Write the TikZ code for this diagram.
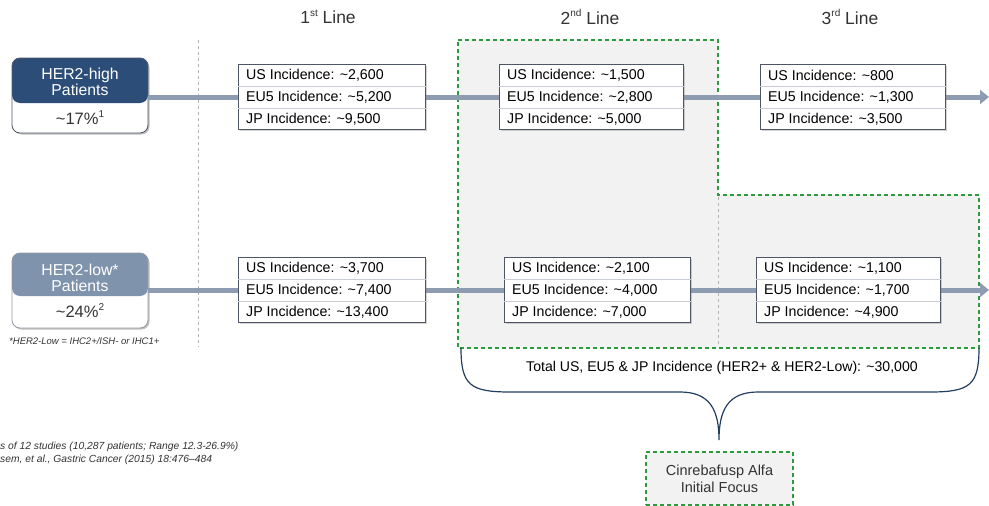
\documentclass[tikz,border=0pt]{standalone}
\usepackage{fontspec}
\setmainfont{Liberation Sans}
\usetikzlibrary{arrows.meta,shadows,calc}
\definecolor{hiblue}{HTML}{2C4D78}
\definecolor{loblue}{HTML}{8093AD}
\definecolor{flow}{HTML}{8E9CB2}
\definecolor{grn}{HTML}{2E9A3E}
\definecolor{zone}{HTML}{F2F2F2}
\definecolor{edge}{HTML}{4D5566}
\definecolor{txt}{HTML}{333333}
\definecolor{sep}{HTML}{C8CCD4}
\newcommand{\supr}[1]{\raisebox{0.42em}{\fontsize{10}{11}\selectfont #1}}
\tikzset{
  title/.style={font=\fontsize{17.5}{19}\selectfont, text=txt},
  inctext/.style={font=\fontsize{14.2}{16}\selectfont, text=black, anchor=west, inner sep=0pt},
  incframe/.style={draw=edge, line width=0.8pt, fill=white, minimum height=65pt, inner sep=0pt,
     drop shadow={shadow xshift=1.5pt, shadow yshift=-1.5pt, opacity=0.35}},
  flowline/.style={draw=flow, line width=5pt, -{Triangle[width=14pt,length=9pt]}},
  greenzone/.style={draw=grn, line width=1.2pt, dash pattern=on 4pt off 3pt, fill=zone},
  gridline/.style={draw=gray!60, line width=0.6pt, dash pattern=on 3pt off 3pt},
  pattext/.style={font=\fontsize{15.8}{17}\selectfont, align=center},
  fnote/.style={font=\itshape\fontsize{10.3}{11}\selectfont, text=txt, anchor=west, inner sep=0pt},
  brace/.style={draw=hiblue!80!black, line width=1.2pt},
}
% #1 name, #2 left x, #3 top y, #4 width, #5-#7 texts
\newcommand{\incbox}[7]{%
  \node[incframe, minimum width=#4pt, anchor=north west] (#1) at (#2,#3) {};
  \draw[sep, line width=0.6pt] ($(#1.north west)!1/3!(#1.south west)$) -- ($(#1.north east)!1/3!(#1.south east)$);
  \draw[sep, line width=0.6pt] ($(#1.north west)!2/3!(#1.south west)$) -- ($(#1.north east)!2/3!(#1.south east)$);
  \node[inctext] (#1-a) at ($(#1.north west)!1/6!(#1.south west)+(8,0)$) {#5};
  \node[inctext] (#1-b) at ($(#1.north west)!1/2!(#1.south west)+(8,0)$) {#6};
  \node[inctext] (#1-c) at ($(#1.north west)!5/6!(#1.south west)+(8,0)$) {#7};
}
\begin{document}
\begin{tikzpicture}[x=1pt,y=-1pt]
\useasboundingbox (0,0) rectangle (989,506);

% green focus zone
\path[greenzone] (458,40) -- (718,40) -- (718,195) -- (979,195) -- (979,348) -- (458,348) -- cycle;

% grid lines
\draw[gridline] (198,40) -- (198,347);
\draw[gridline] (718,197) -- (718,346);

% titles
\node[title] (t1) at (328,17) {1\supr{st} Line};
\node[title] (t2) at (590,17) {2\supr{nd} Line};
\node[title] (t3) at (850,17) {3\supr{rd} Line};

% patient boxes
\fill[black, opacity=0.25, rounded corners=8pt] (13.5,59.5) rectangle (149.5,134.5);
\fill[black, opacity=0.25, rounded corners=8pt] (13.5,254.5) rectangle (149.5,329.5);
\fill[white, rounded corners=8pt] (12,58) rectangle (148,133);
\fill[hiblue, rounded corners=8pt] (12,103) |- (148,58) -- (148,103) -- cycle;
\draw[edge, line width=0.8pt, rounded corners=8pt] (12,58) rectangle (148,133);
\node[pattext, text=white, inner sep=0pt] (hi) at (80,82) {HER2-high\\[-1pt]Patients};
\node[pattext, text=txt] (hipct) at (80,118) {\fontsize{16.5}{17}\selectfont\textasciitilde17\%\supr{1}};
\coordinate (hiR) at (148,97);

\fill[white, rounded corners=8pt] (12,253) rectangle (148,328);
\fill[loblue, rounded corners=8pt] (12,296) |- (148,253) -- (148,296) -- cycle;
\draw[edge!60, line width=0.8pt, rounded corners=8pt] (12,253) rectangle (148,328);
\node[pattext, text=white, inner sep=0pt] (lo) at (80,278) {HER2-low*\\[-1pt]Patients};
\node[pattext, text=txt] (lopct) at (80,311) {\fontsize{16.5}{17}\selectfont\textasciitilde24\%\supr{2}};
\coordinate (loR) at (148,290);

\node[fnote, font=\itshape\fontsize{9.5}{11}\selectfont] (fn) at (9,341) {*HER2-Low = IHC2+/ISH- or IHC1+};

% flow arrows
\coordinate (hiEnd) at (989,97);
\coordinate (loEnd) at (989,290);
\draw[flowline] (hiR) -- (hiEnd);
\draw[flowline] (loR) -- (loEnd);

% incidence boxes
\incbox{h1}{238}{64}{187}{US Incidence: \textasciitilde2,600}{EU5 Incidence: \textasciitilde5,200}{JP Incidence: \textasciitilde9,500}
\incbox{h2}{499}{64}{184}{US Incidence: \textasciitilde1,500}{EU5 Incidence: \textasciitilde2,800}{JP Incidence: \textasciitilde5,000}
\incbox{h3}{760}{64}{185}{US Incidence: \textasciitilde800}{EU5 Incidence: \textasciitilde1,300}{JP Incidence: \textasciitilde3,500}
\incbox{l1}{238}{257}{187}{US Incidence: \textasciitilde3,700}{EU5 Incidence: \textasciitilde7,400}{JP Incidence: \textasciitilde13,400}
\incbox{l2}{504}{257}{186}{US Incidence: \textasciitilde2,100}{EU5 Incidence: \textasciitilde4,000}{JP Incidence: \textasciitilde7,000}
\incbox{l3}{756}{257}{184}{US Incidence: \textasciitilde1,100}{EU5 Incidence: \textasciitilde1,700}{JP Incidence: \textasciitilde4,900}

% brace
\coordinate (bl) at (461,348);
\coordinate (br) at (979,348);
\coordinate (tip) at (719,440);
\draw[brace] (bl) .. controls (461,385) and (470,392) .. (510,392)
  -- (680,392) .. controls (710,392) and (719,410) .. (tip)
  .. controls (719,410) and (728,392) .. (758,392)
  -- (930,392) .. controls (970,392) and (979,385) .. (br);
\node[font=\fontsize{14.1}{16}\selectfont, text=black] (total) at (722,368) {Total US, EU5 \& JP Incidence (HER2+ \& HER2-Low): \textasciitilde30,000};

% focus box
\node[greenzone, minimum width=147pt, minimum height=53pt, inner sep=0pt, align=center,
  font=\fontsize{14.5}{17}\selectfont, text=txt] (focus) at (719.5,478.5) {Cinrebafusp Alfa\\Initial Focus};

% references
\node[fnote] (ref1) at (0,447) {s of 12 studies (10,287 patients; Range 12.3-26.9\%)};
\node[fnote] (ref2) at (0,460) {sem, et al., Gastric Cancer (2015) 18:476–484};
\end{tikzpicture}
\end{document}
